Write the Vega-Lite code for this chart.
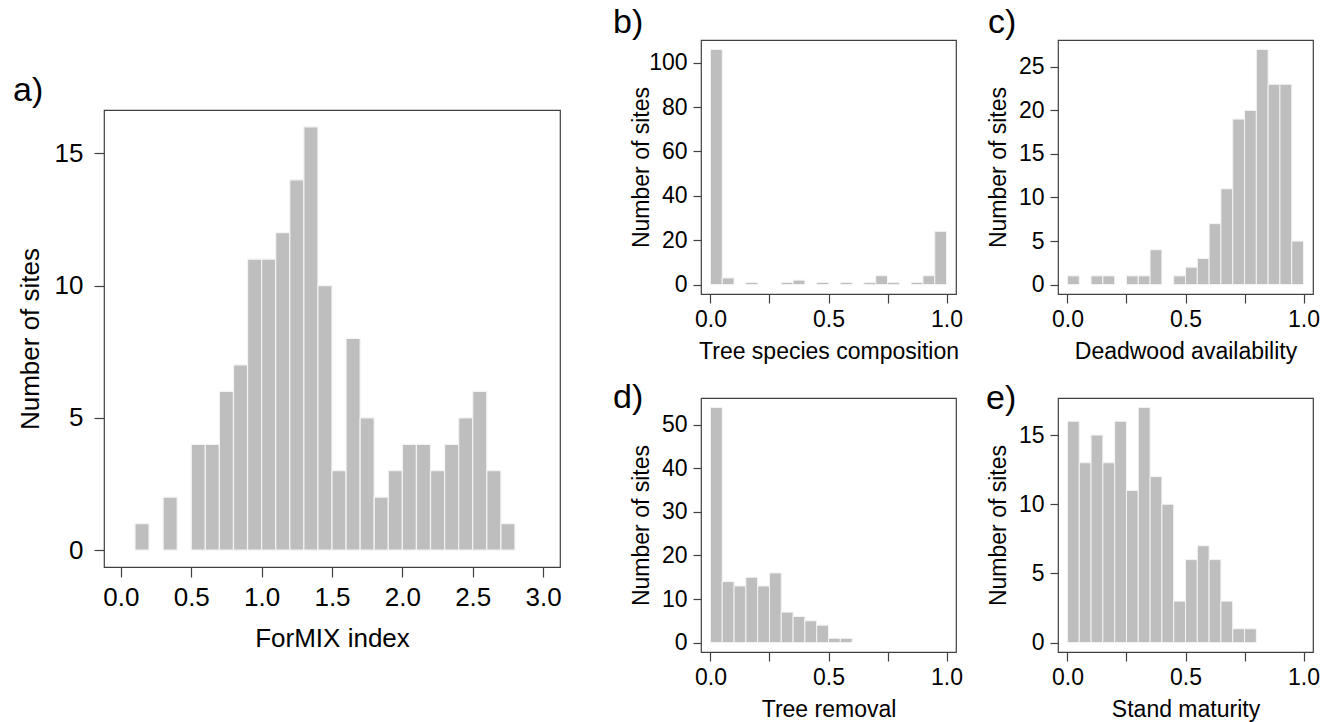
{
  "$schema": "https://vega.github.io/schema/vega-lite/v6.json",
  "padding": {"left": 12, "top": 5, "right": 0, "bottom": 0},
  "background": "white",
  "datasets": {
    "a": [
      {"lo": 0.1, "hi": 0.2, "n": 1}, {"lo": 0.3, "hi": 0.4, "n": 2},
      {"lo": 0.5, "hi": 0.6, "n": 4}, {"lo": 0.6, "hi": 0.7, "n": 4},
      {"lo": 0.7, "hi": 0.8, "n": 6}, {"lo": 0.8, "hi": 0.9, "n": 7},
      {"lo": 0.9, "hi": 1.0, "n": 11}, {"lo": 1.0, "hi": 1.1, "n": 11},
      {"lo": 1.1, "hi": 1.2, "n": 12}, {"lo": 1.2, "hi": 1.3, "n": 14},
      {"lo": 1.3, "hi": 1.4, "n": 16}, {"lo": 1.4, "hi": 1.5, "n": 10},
      {"lo": 1.5, "hi": 1.6, "n": 3}, {"lo": 1.6, "hi": 1.7, "n": 8},
      {"lo": 1.7, "hi": 1.8, "n": 5}, {"lo": 1.8, "hi": 1.9, "n": 2},
      {"lo": 1.9, "hi": 2.0, "n": 3}, {"lo": 2.0, "hi": 2.1, "n": 4},
      {"lo": 2.1, "hi": 2.2, "n": 4}, {"lo": 2.2, "hi": 2.3, "n": 3},
      {"lo": 2.3, "hi": 2.4, "n": 4}, {"lo": 2.4, "hi": 2.5, "n": 5},
      {"lo": 2.5, "hi": 2.6, "n": 6}, {"lo": 2.6, "hi": 2.7, "n": 3},
      {"lo": 2.7, "hi": 2.8, "n": 1}
    ],
    "b": [
      {"lo": 0.0, "hi": 0.05, "n": 106}, {"lo": 0.05, "hi": 0.1, "n": 3},
      {"lo": 0.15, "hi": 0.2, "n": 1}, {"lo": 0.3, "hi": 0.35, "n": 1},
      {"lo": 0.35, "hi": 0.4, "n": 2}, {"lo": 0.45, "hi": 0.5, "n": 1},
      {"lo": 0.55, "hi": 0.6, "n": 1}, {"lo": 0.65, "hi": 0.7, "n": 1},
      {"lo": 0.7, "hi": 0.75, "n": 4}, {"lo": 0.75, "hi": 0.8, "n": 1},
      {"lo": 0.85, "hi": 0.9, "n": 1}, {"lo": 0.9, "hi": 0.95, "n": 4},
      {"lo": 0.95, "hi": 1.0, "n": 24}
    ],
    "c": [
      {"lo": 0.0, "hi": 0.05, "n": 1}, {"lo": 0.1, "hi": 0.15, "n": 1},
      {"lo": 0.15, "hi": 0.2, "n": 1}, {"lo": 0.25, "hi": 0.3, "n": 1},
      {"lo": 0.3, "hi": 0.35, "n": 1}, {"lo": 0.35, "hi": 0.4, "n": 4},
      {"lo": 0.45, "hi": 0.5, "n": 1}, {"lo": 0.5, "hi": 0.55, "n": 2},
      {"lo": 0.55, "hi": 0.6, "n": 3}, {"lo": 0.6, "hi": 0.65, "n": 7},
      {"lo": 0.65, "hi": 0.7, "n": 11}, {"lo": 0.7, "hi": 0.75, "n": 19},
      {"lo": 0.75, "hi": 0.8, "n": 20}, {"lo": 0.8, "hi": 0.85, "n": 27},
      {"lo": 0.85, "hi": 0.9, "n": 23}, {"lo": 0.9, "hi": 0.95, "n": 23},
      {"lo": 0.95, "hi": 1.0, "n": 5}
    ],
    "d": [
      {"lo": 0.0, "hi": 0.05, "n": 54}, {"lo": 0.05, "hi": 0.1, "n": 14},
      {"lo": 0.1, "hi": 0.15, "n": 13}, {"lo": 0.15, "hi": 0.2, "n": 15},
      {"lo": 0.2, "hi": 0.25, "n": 13}, {"lo": 0.25, "hi": 0.3, "n": 16},
      {"lo": 0.3, "hi": 0.35, "n": 7}, {"lo": 0.35, "hi": 0.4, "n": 6},
      {"lo": 0.4, "hi": 0.45, "n": 5}, {"lo": 0.45, "hi": 0.5, "n": 4},
      {"lo": 0.5, "hi": 0.55, "n": 1}, {"lo": 0.55, "hi": 0.6, "n": 1}
    ],
    "e": [
      {"lo": 0.0, "hi": 0.05, "n": 16}, {"lo": 0.05, "hi": 0.1, "n": 13},
      {"lo": 0.1, "hi": 0.15, "n": 15}, {"lo": 0.15, "hi": 0.2, "n": 13},
      {"lo": 0.2, "hi": 0.25, "n": 16}, {"lo": 0.25, "hi": 0.3, "n": 11},
      {"lo": 0.3, "hi": 0.35, "n": 17}, {"lo": 0.35, "hi": 0.4, "n": 12},
      {"lo": 0.4, "hi": 0.45, "n": 10}, {"lo": 0.45, "hi": 0.5, "n": 3},
      {"lo": 0.5, "hi": 0.55, "n": 6}, {"lo": 0.55, "hi": 0.6, "n": 7},
      {"lo": 0.6, "hi": 0.65, "n": 6}, {"lo": 0.65, "hi": 0.7, "n": 3},
      {"lo": 0.7, "hi": 0.75, "n": 1}, {"lo": 0.75, "hi": 0.8, "n": 1}
    ]
  },
  "config": {
    "font": "Liberation Sans",
    "view": {"stroke": "#404040", "strokeWidth": 1.2},
    "axis": {
      "domain": false, "grid": false, "tickColor": "#404040", "tickWidth": 1.2,
      "labelColor": "#000", "titleColor": "#000", "labelFont": "Liberation Sans",
      "titleFont": "Liberation Sans", "titleFontWeight": "normal"
    },
    "title": {"font": "Liberation Sans", "fontWeight": "normal", "fontSize": 34, "color": "#000"}
  },
  "hconcat": [
    {
      "vconcat": [
        {
          "width": 456, "height": 70,
          "view": {"stroke": null},
          "data": {"values": [{"n": 0}]},
          "mark": {"type": "point", "opacity": 0},
          "encoding": {}
        },
        {
          "width": 456, "height": 457,
          "title": {"text": "a)", "anchor": "start", "frame": "group", "orient": "top", "baseline": "alphabetic", "offset": 0, "dx": -91, "dy": 25},
          "data": {"name": "a"},
          "mark": {"type": "rect", "fill": "#bebebe", "stroke": "#f4f4f4", "strokeWidth": 1.2},
          "encoding": {
            "x": {"field": "lo", "type": "quantitative",
              "scale": {"domain": [-0.12, 3.12], "nice": false, "zero": false},
              "axis": {"values": [0, 0.5, 1, 1.5, 2, 2.5, 3], "format": ".1f", "tickSize": 10,
                "labelFontSize": 26, "labelBaseline": "alphabetic", "labelPadding": 28, "labelFlush": false, "labelOverlap": false,
                "title": "ForMIX index", "titleFontSize": 26, "titleBaseline": "alphabetic", "titleY": 79}},
            "x2": {"field": "hi"},
            "y": {"field": "n", "type": "quantitative",
              "scale": {"domain": [-0.64, 16.64], "nice": false, "zero": false},
              "axis": {"values": [0, 5, 10, 15], "tickSize": 10, "labelFontSize": 26, "labelPadding": 11, "labelFlush": false,
                "title": "Number of sites", "titleFontSize": 26, "titleBaseline": "alphabetic", "titleX": -66}},
            "y2": {"datum": 0}
          }
        }
      ],
      "spacing": 0,
      "bounds": "flush"
    },
    {
      "concat": [
        {
          "width": 255, "height": 254,
          "title": {"text": "b)", "anchor": "start", "frame": "group", "orient": "top", "baseline": "alphabetic", "offset": 0, "dx": -88, "dy": 27},
          "data": {"name": "b"},
          "mark": {"type": "rect", "fill": "#bebebe", "stroke": "#f4f4f4", "strokeWidth": 1},
          "encoding": {
            "x": {"field": "lo", "type": "quantitative",
              "scale": {"domain": [-0.04, 1.04], "nice": false, "zero": false},
              "axis": {"values": [0, 0.25, 0.5, 0.75, 1], "labelExpr": "(datum.value == 0.25 || datum.value == 0.75) ? '' : format(datum.value, '.1f')",
                "tickSize": 9, "labelFontSize": 23, "labelBaseline": "alphabetic", "labelPadding": 23, "labelFlush": false, "labelOverlap": false,
                "title": "Tree species composition", "titleFontSize": 23, "titleBaseline": "alphabetic", "titleY": 64}},
            "x2": {"field": "hi"},
            "y": {"field": "n", "type": "quantitative",
              "scale": {"domain": [-4.24, 110.24], "nice": false, "zero": false},
              "axis": {"values": [0, 20, 40, 60, 80, 100], "tickSize": 8, "labelFontSize": 23, "labelPadding": 6, "labelFlush": false,
                "title": "Number of sites", "titleFontSize": 23, "titleBaseline": "alphabetic", "titleX": -53}},
            "y2": {"datum": 0}
          }
        },
        {
          "width": 255, "height": 254,
          "title": {"text": "c)", "anchor": "start", "frame": "group", "orient": "top", "baseline": "alphabetic", "offset": 0, "dx": -70, "dy": 27},
          "data": {"name": "c"},
          "mark": {"type": "rect", "fill": "#bebebe", "stroke": "#f4f4f4", "strokeWidth": 1},
          "encoding": {
            "x": {"field": "lo", "type": "quantitative",
              "scale": {"domain": [-0.04, 1.04], "nice": false, "zero": false},
              "axis": {"values": [0, 0.25, 0.5, 0.75, 1], "labelExpr": "(datum.value == 0.25 || datum.value == 0.75) ? '' : format(datum.value, '.1f')",
                "tickSize": 9, "labelFontSize": 23, "labelBaseline": "alphabetic", "labelPadding": 23, "labelFlush": false, "labelOverlap": false,
                "title": "Deadwood availability", "titleFontSize": 23, "titleBaseline": "alphabetic", "titleY": 64}},
            "x2": {"field": "hi"},
            "y": {"field": "n", "type": "quantitative",
              "scale": {"domain": [-1.08, 28.08], "nice": false, "zero": false},
              "axis": {"values": [0, 5, 10, 15, 20, 25], "tickSize": 8, "labelFontSize": 23, "labelPadding": 6, "labelFlush": false,
                "title": "Number of sites", "titleFontSize": 23, "titleBaseline": "alphabetic", "titleX": -53}},
            "y2": {"datum": 0}
          }
        },
        {
          "width": 255, "height": 254,
          "title": {"text": "d)", "anchor": "start", "frame": "group", "orient": "top", "baseline": "alphabetic", "offset": 0, "dx": -88, "dy": 44},
          "data": {"name": "d"},
          "mark": {"type": "rect", "fill": "#bebebe", "stroke": "#f4f4f4", "strokeWidth": 1},
          "encoding": {
            "x": {"field": "lo", "type": "quantitative",
              "scale": {"domain": [-0.04, 1.04], "nice": false, "zero": false},
              "axis": {"values": [0, 0.25, 0.5, 0.75, 1], "labelExpr": "(datum.value == 0.25 || datum.value == 0.75) ? '' : format(datum.value, '.1f')",
                "tickSize": 9, "labelFontSize": 23, "labelBaseline": "alphabetic", "labelPadding": 23, "labelFlush": false, "labelOverlap": false,
                "title": "Tree removal", "titleFontSize": 23, "titleBaseline": "alphabetic", "titleY": 64}},
            "x2": {"field": "hi"},
            "y": {"field": "n", "type": "quantitative",
              "scale": {"domain": [-2.16, 56.16], "nice": false, "zero": false},
              "axis": {"values": [0, 10, 20, 30, 40, 50], "tickSize": 8, "labelFontSize": 23, "labelPadding": 6, "labelFlush": false,
                "title": "Number of sites", "titleFontSize": 23, "titleBaseline": "alphabetic", "titleX": -53}},
            "y2": {"datum": 0}
          }
        },
        {
          "width": 255, "height": 254,
          "title": {"text": "e)", "anchor": "start", "frame": "group", "orient": "top", "baseline": "alphabetic", "offset": 0, "dx": -72, "dy": 45},
          "data": {"name": "e"},
          "mark": {"type": "rect", "fill": "#bebebe", "stroke": "#f4f4f4", "strokeWidth": 1},
          "encoding": {
            "x": {"field": "lo", "type": "quantitative",
              "scale": {"domain": [-0.04, 1.04], "nice": false, "zero": false},
              "axis": {"values": [0, 0.25, 0.5, 0.75, 1], "labelExpr": "(datum.value == 0.25 || datum.value == 0.75) ? '' : format(datum.value, '.1f')",
                "tickSize": 9, "labelFontSize": 23, "labelBaseline": "alphabetic", "labelPadding": 23, "labelFlush": false, "labelOverlap": false,
                "title": "Stand maturity", "titleFontSize": 23, "titleBaseline": "alphabetic", "titleY": 64}},
            "x2": {"field": "hi"},
            "y": {"field": "n", "type": "quantitative",
              "scale": {"domain": [-0.68, 17.68], "nice": false, "zero": false},
              "axis": {"values": [0, 5, 10, 15], "tickSize": 8, "labelFontSize": 23, "labelPadding": 6, "labelFlush": false,
                "title": "Number of sites", "titleFontSize": 23, "titleBaseline": "alphabetic", "titleX": -53}},
            "y2": {"datum": 0}
          }
        }
      ],
      "columns": 2,
      "spacing": {"row": 104, "column": 102},
      "bounds": "flush"
    }
  ],
  "spacing": 597,
  "bounds": "flush"
}
